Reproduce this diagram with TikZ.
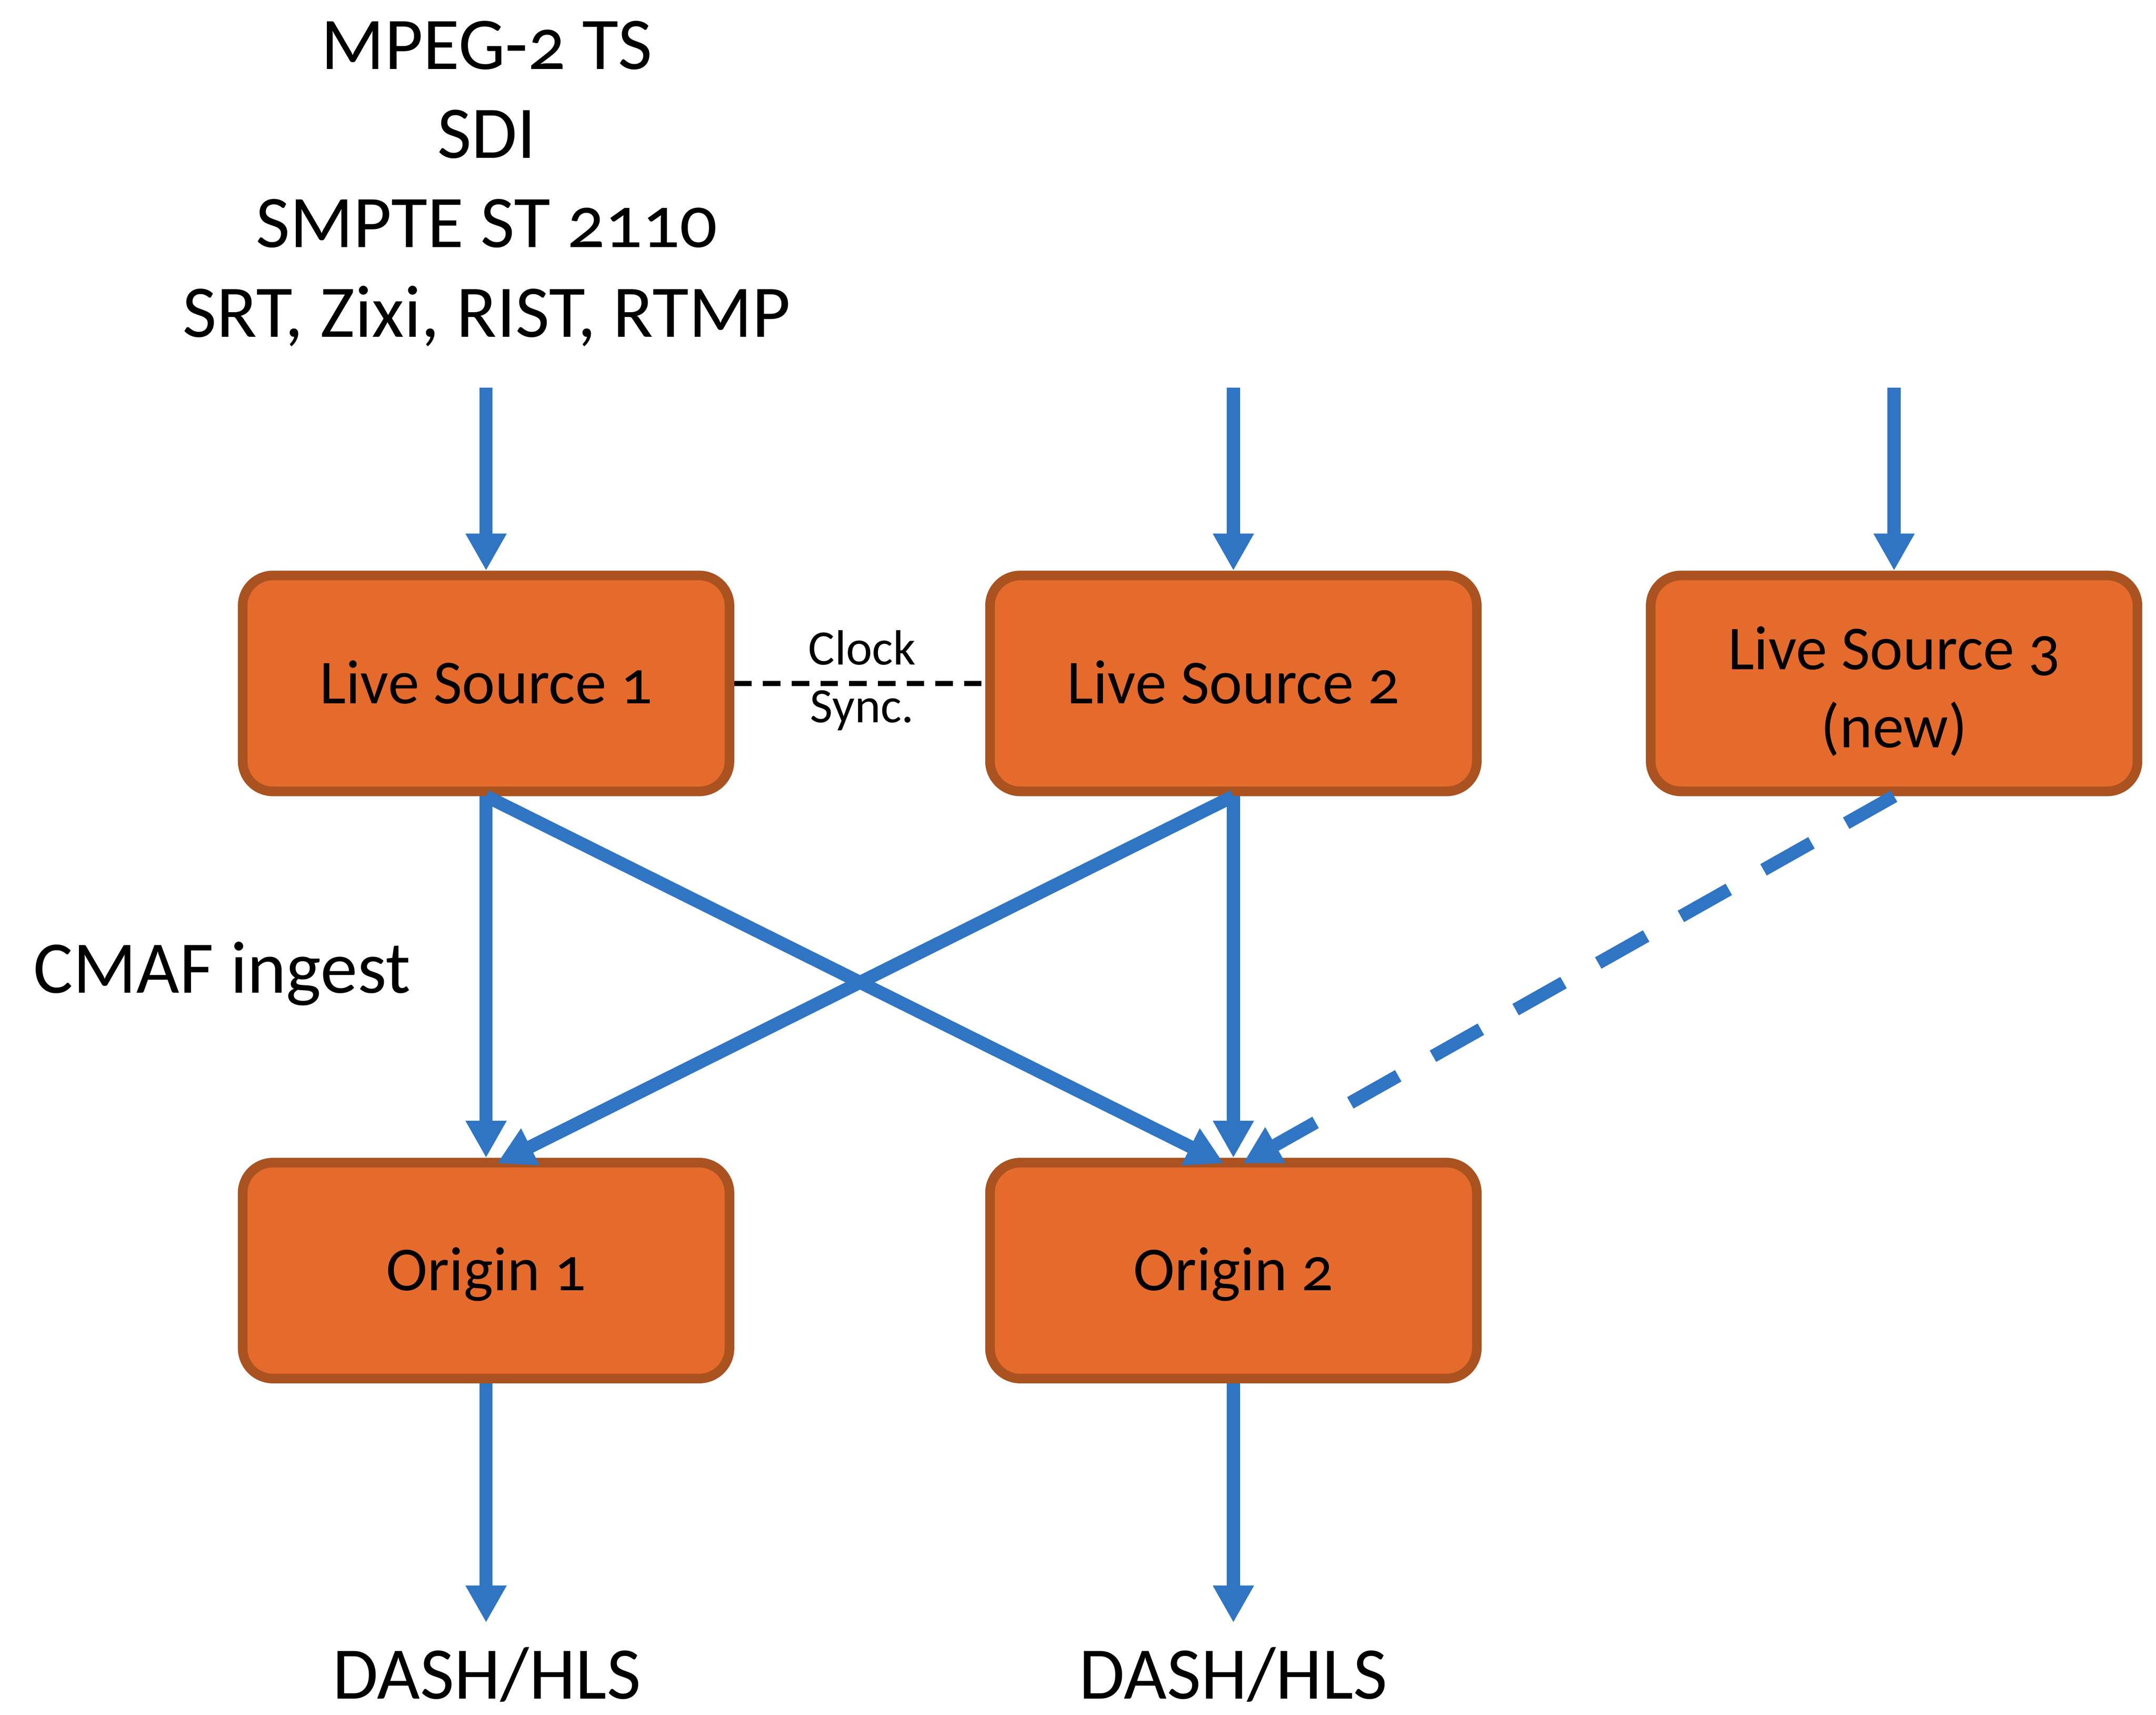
\documentclass[tikz,border=0pt]{standalone}
\usepackage{fontspec}
\setmainfont{Carlito}[Numbers=OldStyle]
\usetikzlibrary{arrows.meta}
\definecolor{boxfill}{RGB}{229,107,44}
\definecolor{boxline}{RGB}{170,82,32}
\definecolor{arrblue}{RGB}{47,117,196}
\begin{document}
\begin{tikzpicture}[x=1pt,y=-1pt,
  box/.style={draw=boxline, fill=boxfill, line width=7pt, rounded corners=22pt,
    minimum width=354pt, minimum height=157pt, align=center, inner sep=0pt,
    font=\fontsize{45.5}{56.5}\selectfont},
  oneline/.style={text height=29pt, text depth=0pt},
  big/.style={font=\fontsize{54}{65}\selectfont, inner sep=0pt, anchor=base},
  small/.style={font=\fontsize{36}{40}\selectfont, inner sep=0pt, anchor=base},
  arr/.style={draw=arrblue, line width=9.5pt, -{Triangle[width=28pt,length=27pt]}},
  sync/.style={draw=black, line width=3.6pt, dash pattern=on 12.7pt off 8.2pt}
  ]
\useasboundingbox[fill=white] (0,0) rectangle (1568,1247);

% top texts
\node[big] (t1) at (354,50.4) {MPEG-2 TS};
\node[big] (t2) at (354,115) {SDI};
\node[big] (t3) at (354,180) {SMPTE ST 2110};
\node[big] (t4) at (354,245) {SRT, Zixi, RIST, RTMP};

% boxes
\node[box, oneline] (ls1) at (353.5,497) {Live Source 1};
\node[box, oneline] (ls2) at (897,497) {Live Source 2};
\node[box] (ls3) at (1377.5,497) {\rule{0pt}{50.5pt}Live Source 3\\(new)\rule[-14pt]{0pt}{14pt}};
\node[box, oneline] (o1) at (353.5,924) {Origin 1};
\node[box, oneline] (o2) at (897,924) {Origin 2};

% labels
\node[big] (cmaf) at (161.5,722) {CMAF ingest};
\node[small] (clk) at (627,483.5) {Clock};
\node[small] (syn) at (627,525.4) {Sync.};
\node[big] (d1) at (354,1235.5) {DASH/HLS};
\node[big] (d2) at (897,1235.5) {DASH/HLS};

% free ends
\coordinate (in1) at ([yshift=133pt]ls1.north);
\coordinate (in2) at ([yshift=133pt]ls2.north);
\coordinate (in3) at ([yshift=133pt]ls3.north);
\coordinate (out1) at ([yshift=-174pt]o1.south);
\coordinate (out2) at ([yshift=-174pt]o2.south);

% connectors
\draw[arr] (in1) -- (ls1.north);
\draw[arr] (in2) -- (ls2.north);
\draw[arr] (in3) -- (ls3.north);
\draw[sync] (ls1.east) -- (ls2.west);
\draw[arr] (ls1.south) -- (o1.north);
\draw[arr] (ls2.south) -- (o2.north);
\draw[arr] (ls1.south) -- ([xshift=-7pt,yshift=-4pt]o2.north);
\draw[arr] (ls2.south) -- ([xshift=8pt,yshift=-4pt]o1.north);
\draw[arr, dash pattern=on 40pt off 29pt] (ls3.south) -- ([xshift=7pt,yshift=-4pt]o2.north);
\draw[arr] (o1.south) -- (out1);
\draw[arr] (o2.south) -- (out2);
\end{tikzpicture}
\end{document}
